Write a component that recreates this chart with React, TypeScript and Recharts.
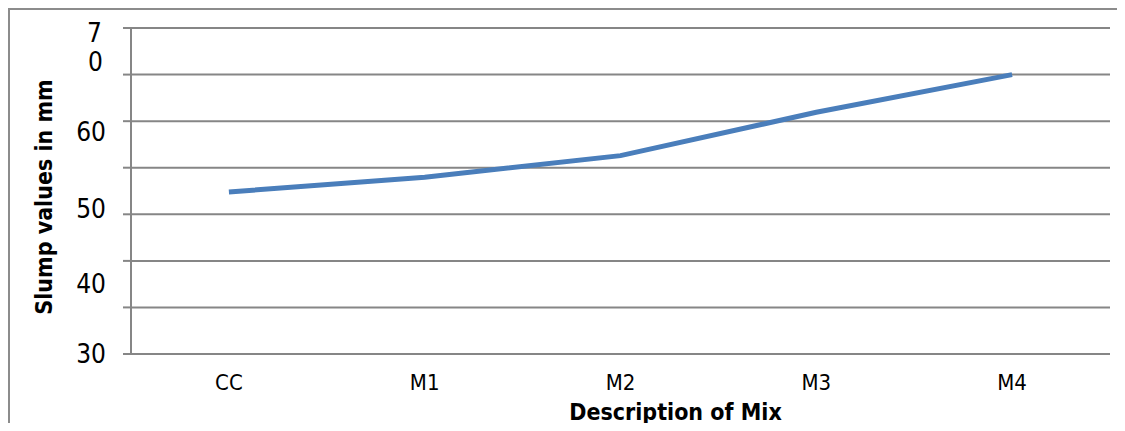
import { ComposedChart, Line, XAxis, YAxis, CartesianGrid, Label } from 'recharts';

const mixes = ['CC', 'M1', 'M2', 'M3', 'M4'];
const slumpMm = [53.2, 55.3, 58.4, 64.6, 70];
const yLabelTicks = [30, 40, 50, 60, 70];
const gridTicks = [30, 36.67, 43.33, 50, 56.67, 63.33, 70, 76.67];

const data = mixes.map((mix, i) => ({ mix, slump: slumpMm[i] }));

const FONT = '"Liberation Sans Narrow", "DejaVu Sans Condensed", "Arial Narrow", sans-serif';
const GRID = '#868686';

const PLOT_WIDTH = 1117 - 123 - 15;
// half a category band on each side, so points sit between the band edges
const bandPad = PLOT_WIDTH / (mixes.length * 2);

// labels in the sheet sit a little above their tick value
const labelLift: Record<number, number> = { 50: 5, 60: 13 };

function SlumpTick(props: any) {
  const { x, y, payload } = props;
  const v = payload.value;
  const common = { textAnchor: 'end' as const, fontSize: 26, fontFamily: FONT, fill: '#000' };
  if (v === 70) {
    // 70 wraps onto two lines
    return (
      <text x={x - 4} y={y} {...common}>
        <tspan x={x - 4} dy={-33}>7</tspan>
        <tspan x={x - 3} dy={29}>0</tspan>
      </text>
    );
  }
  return (
    <text x={x} y={y - (labelLift[v] ?? 0)} dy="0.35em" {...common}>
      {v}
    </text>
  );
}

export default function App() {
  return (
    <div style={{ position: 'relative', width: 1117, height: 423, marginBottom: -8, overflow: 'hidden', background: '#fff' }}>
      <div
        style={{
          position: 'absolute',
          left: 0,
          top: 0,
          width: 1140,
          height: 450,
          borderLeft: `2px solid #8c8c8c`,
          borderTop: `2px solid #8c8c8c`,
          boxSizing: 'border-box',
        }}
      />
      <div style={{ position: 'absolute', left: 0, top: 0 }}>
        <ComposedChart width={1117} height={423} data={data} margin={{ top: 20, right: 15, bottom: 37, left: 28 }}>
          <CartesianGrid yAxisId="grid" vertical={false} stroke={GRID} strokeWidth={2} />
          <XAxis
            dataKey="mix"
            height={40}
            padding={{ left: bandPad, right: bandPad }}
            axisLine={false}
            tickLine={false}
            tickSize={0}
            tickMargin={20}
            tick={{ fill: '#000', fontSize: 22, fontFamily: FONT }}
          >
            <Label
              value="Description of Mix"
              position="bottom"
              offset={10}
              dx={55}
              fill="#000"
              fontSize={23}
              fontWeight="bold"
              fontFamily={FONT}
            />
          </XAxis>
          <YAxis
            yAxisId="grid"
            width={25}
            domain={[30, 76.67]}
            ticks={gridTicks}
            allowDataOverflow
            stroke={GRID}
            strokeWidth={2}
            tickSize={8}
            tickLine={{ stroke: GRID, strokeWidth: 2 }}
            tick={() => <g />}
          />
          <YAxis
            yAxisId="labels"
            width={70}
            domain={[30, 76.67]}
            ticks={yLabelTicks}
            allowDataOverflow
            axisLine={false}
            tickLine={false}
            tickSize={0}
            tickMargin={0}
            tick={<SlumpTick />}
          >
            <Label
              value="Slump values in mm"
              angle={-90}
              position="center"
              dx={-27}
              dy={6}
              fill="#000"
              fontSize={23}
              fontWeight="bold"
              fontFamily={FONT}
            />
          </YAxis>
          <Line
            yAxisId="grid"
            type="linear"
            dataKey="slump"
            stroke="#4a7ebb"
            strokeWidth={5}
            dot={false}
            isAnimationActive={false}
          />
        </ComposedChart>
      </div>
    </div>
  );
}
